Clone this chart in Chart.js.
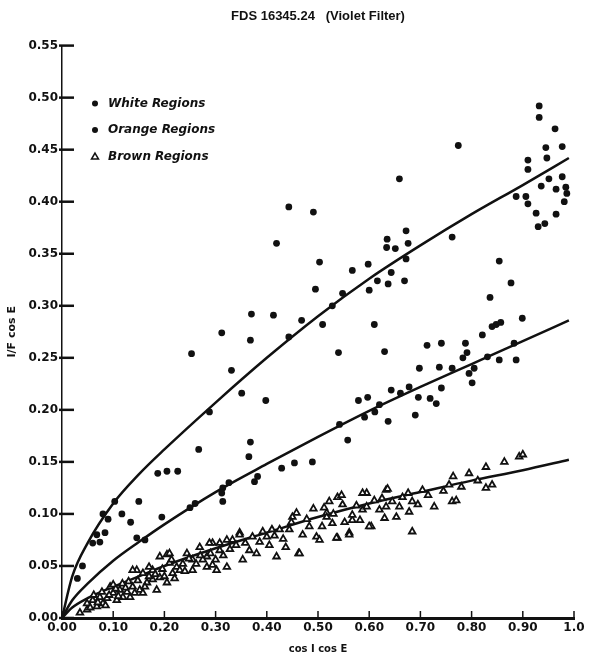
<!DOCTYPE html>
<html lang="en">
  <head>
    <meta charset="UTF-8" />
    <script src="https://cdn.jsdelivr.net/npm/chart.js"></script>
    <title>FDS 16345.24 (Violet Filter)</title>
    <style>
      body { margin: 0; background: #fff; }
    </style>
  </head>
  <body>
    <canvas id="myChart" width="591" height="660"></canvas>
    <script>
      // values, [cos I cos E, I/F cos E]
      const whitePts = [
        [0.932,0.492],[0.932,0.481],[0.963,0.470],[0.977,0.453],[0.945,0.452],[0.947,0.442],
        [0.910,0.440],[0.910,0.431],[0.774,0.454],[0.659,0.422],[0.951,0.422],[0.977,0.424],
        [0.936,0.415],[0.965,0.412],[0.984,0.414],[0.986,0.408],[0.981,0.400],[0.887,0.405],
        [0.906,0.405],[0.910,0.398],[0.926,0.389],[0.965,0.388],[0.930,0.376],[0.943,0.379],
        [0.491,0.390],[0.443,0.395],[0.419,0.360],[0.672,0.372],[0.635,0.364],[0.634,0.356],
        [0.651,0.355],[0.676,0.360],[0.672,0.345],[0.762,0.366],[0.503,0.342],[0.598,0.340],
        [0.567,0.334],[0.643,0.332],[0.616,0.324],[0.637,0.321],[0.669,0.324],[0.600,0.315],
        [0.495,0.316],[0.548,0.312],[0.528,0.300],[0.468,0.286],[0.509,0.282],[0.610,0.282],
        [0.540,0.255],[0.630,0.256],[0.370,0.292],[0.413,0.291],[0.312,0.274],[0.368,0.267],
        [0.443,0.270],[0.253,0.254],[0.331,0.238],[0.351,0.216],[0.398,0.209],[0.288,0.198],
        [0.267,0.162],[0.368,0.169],[0.365,0.155],[0.187,0.139],[0.205,0.141],[0.226,0.141],
        [0.150,0.112],[0.117,0.100],[0.134,0.092],[0.195,0.097],[0.103,0.112],[0.080,0.100],
        [0.084,0.082],[0.074,0.073],[0.060,0.072],[0.090,0.095],[0.068,0.080],[0.040,0.050],
        [0.030,0.038]
      ];
      const orangePts = [
        [0.854,0.343],[0.877,0.322],[0.836,0.308],[0.848,0.282],[0.840,0.280],[0.857,0.284],
        [0.899,0.288],[0.821,0.272],[0.883,0.264],[0.713,0.262],[0.741,0.264],[0.788,0.264],
        [0.791,0.255],[0.783,0.250],[0.887,0.248],[0.854,0.248],[0.831,0.251],[0.698,0.240],
        [0.737,0.241],[0.762,0.240],[0.805,0.240],[0.795,0.235],[0.801,0.226],[0.643,0.219],
        [0.678,0.222],[0.696,0.212],[0.719,0.211],[0.731,0.206],[0.741,0.221],[0.637,0.189],
        [0.690,0.195],[0.579,0.209],[0.597,0.212],[0.661,0.216],[0.542,0.186],[0.591,0.193],
        [0.558,0.171],[0.611,0.198],[0.620,0.205],[0.429,0.144],[0.454,0.149],[0.489,0.150],
        [0.314,0.125],[0.314,0.112],[0.326,0.130],[0.376,0.131],[0.382,0.136],[0.250,0.106],
        [0.260,0.110],[0.146,0.077],[0.162,0.075],[0.312,0.120]
      ];
      const brownPts = [
        [0.035,0.005],[0.049,0.008],[0.049,0.014],[0.060,0.017],[0.068,0.011],[0.074,0.020],
        [0.080,0.014],[0.088,0.019],[0.094,0.030],[0.100,0.024],[0.100,0.032],[0.107,0.017],
        [0.113,0.027],[0.119,0.020],[0.127,0.025],[0.133,0.020],[0.138,0.030],[0.146,0.046],
        [0.152,0.027],[0.158,0.043],[0.158,0.024],[0.166,0.034],[0.177,0.037],[0.177,0.046],
        [0.185,0.027],[0.191,0.039],[0.191,0.059],[0.205,0.034],[0.205,0.061],[0.210,0.053],
        [0.216,0.043],[0.224,0.049],[0.230,0.046],[0.244,0.062],[0.255,0.056],[0.255,0.046],
        [0.269,0.068],[0.283,0.059],[0.283,0.049],[0.294,0.072],[0.302,0.046],[0.308,0.065],
        [0.322,0.075],[0.275,0.056],[0.288,0.072],[0.294,0.051],[0.308,0.072],[0.322,0.049],
        [0.333,0.075],[0.347,0.082],[0.353,0.056],[0.366,0.065],[0.386,0.073],[0.400,0.078],
        [0.419,0.059],[0.425,0.085],[0.437,0.068],[0.444,0.085],[0.458,0.101],[0.462,0.062],
        [0.483,0.088],[0.491,0.105],[0.497,0.078],[0.517,0.101],[0.528,0.091],[0.538,0.116],
        [0.538,0.077],[0.548,0.109],[0.561,0.082],[0.567,0.094],[0.587,0.104],[0.595,0.120],
        [0.604,0.088],[0.620,0.104],[0.630,0.096],[0.633,0.123],[0.503,0.075],[0.517,0.097],
        [0.522,0.112],[0.536,0.077],[0.546,0.118],[0.561,0.080],[0.567,0.099],[0.587,0.120],
        [0.595,0.107],[0.600,0.088],[0.633,0.107],[0.636,0.124],[0.653,0.097],[0.659,0.107],
        [0.676,0.120],[0.678,0.102],[0.684,0.083],[0.684,0.112],[0.704,0.123],[0.727,0.107],
        [0.756,0.128],[0.762,0.112],[0.764,0.136],[0.770,0.113],[0.795,0.139],[0.828,0.145],
        [0.828,0.125],[0.840,0.128],[0.864,0.150],[0.893,0.155],[0.900,0.157],[0.347,0.080],
        [0.410,0.085],[0.450,0.097],[0.464,0.062],[0.210,0.062],[0.138,0.046],[0.170,0.040],
        [0.055,0.010],[0.062,0.022],[0.070,0.015],[0.078,0.025],[0.085,0.012],[0.092,0.022],
        [0.105,0.028],[0.110,0.021],[0.118,0.033],[0.124,0.029],[0.130,0.035],[0.142,0.024],
        [0.148,0.036],[0.162,0.030],[0.170,0.049],[0.182,0.042],[0.196,0.047],[0.200,0.040],
        [0.214,0.056],[0.220,0.038],[0.236,0.052],[0.240,0.045],[0.248,0.057],[0.262,0.052],
        [0.270,0.060],[0.290,0.062],[0.300,0.056],[0.315,0.060],[0.328,0.066],[0.340,0.070],
        [0.358,0.072],[0.372,0.078],[0.380,0.062],[0.392,0.083],[0.405,0.070],[0.415,0.079],
        [0.432,0.076],[0.448,0.092],[0.470,0.080],[0.478,0.095],[0.508,0.088],[0.512,0.106],
        [0.530,0.100],[0.552,0.092],[0.575,0.108],[0.582,0.094],[0.610,0.113],[0.625,0.115],
        [0.645,0.112],[0.665,0.116],[0.695,0.109],[0.715,0.118],[0.745,0.122],[0.780,0.126],
        [0.812,0.132]
      ];

      // fitted curves
      const curveX      = [0, 0.02, 0.05, 0.1, 0.15, 0.2, 0.3, 0.4, 0.5, 0.6, 0.7, 0.8, 0.9, 0.99];
      const whiteCurve  = [0, 0.040, 0.072, 0.110, 0.138, 0.162, 0.207, 0.250, 0.290, 0.326, 0.358, 0.388, 0.416, 0.442];
      const orangeCurve = [0, 0.017, 0.033, 0.055, 0.073, 0.090, 0.121, 0.148, 0.174, 0.199, 0.222, 0.244, 0.266, 0.286];
      const brownCurve  = [0, 0.010, 0.019, 0.030, 0.040, 0.050, 0.067, 0.082, 0.097, 0.110, 0.121, 0.132, 0.142, 0.152];

      const xTickLabels = ["0.00", "0.10", "0.20", "0.30", "0.40", "0.50", "0.60", "0.70", "0.80", "0.90", "1.0"];
      const yTickLabels = ["0.00", "0.05", "0.10", "0.15", "0.20", "0.25", "0.30", "0.35", "0.40", "0.45", "0.50", "0.55"];

      const ink = "#111";
      const toXY = pts => pts.map(p => ({ x: p[0], y: p[1] }));
      const curve = ys => curveX.map((x, i) => ({ x: x, y: ys[i] }));

      // short tick marks pointing into the plot, like the original
      const tickMarks = {
        id: "tickMarks",
        afterDraw(chart) {
          const { ctx, scales: { x, y } } = chart;
          ctx.save();
          ctx.strokeStyle = ink;
          ctx.lineWidth = 2.5;
          y.ticks.forEach(t => {
            const py = y.getPixelForValue(t.value);
            ctx.beginPath();
            ctx.moveTo(x.left - 3, py);
            ctx.lineTo(x.left + 12, py);
            ctx.stroke();
          });
          ctx.lineWidth = 1.5;
          x.ticks.forEach(t => {
            const px = x.getPixelForValue(t.value);
            ctx.beginPath();
            ctx.moveTo(px, y.bottom);
            ctx.lineTo(px, y.bottom - 7);
            ctx.stroke();
          });
          ctx.restore();
        }
      };

      // legend sits inside the plot, top left
      const insideLegend = {
        id: "insideLegend",
        afterDraw(chart) {
          const { ctx, chartArea } = chart;
          const x0 = chartArea.left + 33;
          const y0 = chartArea.top + 58;
          ctx.save();
          ctx.font = "italic bold 12px 'DejaVu Sans'";
          ctx.textBaseline = "middle";
          ctx.fillStyle = ink;
          ctx.strokeStyle = ink;
          for (let i = 0; i < 3; i++) {
            const ds = chart.data.datasets[i];
            const yy = y0 + i * 26.5;
            if (ds.pointStyle === "triangle") {
              ctx.lineWidth = 1.5;
              ctx.beginPath();
              ctx.moveTo(x0, yy - 3.5);
              ctx.lineTo(x0 + 3.5, yy + 2.5);
              ctx.lineTo(x0 - 3.5, yy + 2.5);
              ctx.closePath();
              ctx.stroke();
            } else {
              ctx.beginPath();
              ctx.arc(x0, yy, 3, 0, Math.PI * 2);
              ctx.fill();
            }
            ctx.fillText(ds.label, x0 + 13, yy);
          }
          ctx.restore();
        }
      };

      const tickFont = { family: "DejaVu Sans", size: 12, weight: "bold" };

      const config = {
        type: "scatter",
        data: {
          datasets: [
            { label: "White Regions", data: toXY(whitePts), pointStyle: "circle", pointRadius: 3.4,
              backgroundColor: ink, borderColor: ink, borderWidth: 0 },
            { label: "Orange Regions", data: toXY(orangePts), pointStyle: "circle", pointRadius: 3.4,
              backgroundColor: ink, borderColor: ink, borderWidth: 0 },
            { label: "Brown Regions", data: toXY(brownPts), pointStyle: "triangle", pointRadius: 3.8,
              backgroundColor: "#fff", borderColor: ink, borderWidth: 1.8 },
            { label: "white fit", data: curve(whiteCurve), showLine: true, pointRadius: 0,
              borderColor: ink, borderWidth: 2.5, cubicInterpolationMode: "monotone" },
            { label: "orange fit", data: curve(orangeCurve), showLine: true, pointRadius: 0,
              borderColor: ink, borderWidth: 2.5, cubicInterpolationMode: "monotone" },
            { label: "brown fit", data: curve(brownCurve), showLine: true, pointRadius: 0,
              borderColor: ink, borderWidth: 2.5, cubicInterpolationMode: "monotone" }
          ]
        },
        options: {
          responsive: false,
          animation: false,
          devicePixelRatio: 1,
          layout: { padding: { right: 17, left: 0, bottom: 0 } },
          plugins: {
            legend: { display: false },
            tooltip: { enabled: false },
            title: {
              display: true,
              fullSize: false,
              text: "FDS 16345.24   (Violet Filter)",
              color: ink,
              font: { family: "Liberation Sans", size: 13, weight: "bold" },
              padding: { top: 9, bottom: 21 }
            }
          },
          scales: {
            x: {
              type: "linear",
              min: 0,
              max: 1,
              afterFit: s => { s.height = 42; },
              ticks: {
                stepSize: 0.1,
                color: ink,
                font: tickFont,
                padding: 3,
                maxRotation: 0,
                callback: (v, i) => xTickLabels[i]
              },
              grid: { display: false, drawTicks: false },
              border: { display: true, color: ink, width: 3 },
              title: {
                display: true,
                text: "cos I cos E",
                color: ink,
                font: { family: "DejaVu Sans", size: 10, weight: "bold" },
                padding: { top: 0, bottom: 5 }
              }
            },
            y: {
              type: "linear",
              min: 0,
              max: 0.55,
              afterFit: s => { s.width = 62; },
              ticks: {
                stepSize: 0.05,
                color: ink,
                font: tickFont,
                padding: 4,
                callback: (v, i) => yTickLabels[i]
              },
              grid: { display: false, drawTicks: false },
              border: { display: true, color: ink, width: 1.5 },
              title: {
                display: true,
                text: "I/F cos E",
                color: ink,
                font: { family: "DejaVu Sans", size: 11, weight: "bold" },
                padding: { top: 6, bottom: 0 }
              }
            }
          }
        },
        plugins: [tickMarks, insideLegend]
      };

      var myChart = new Chart(document.getElementById("myChart"), config);
    </script>
  </body>
</html>
